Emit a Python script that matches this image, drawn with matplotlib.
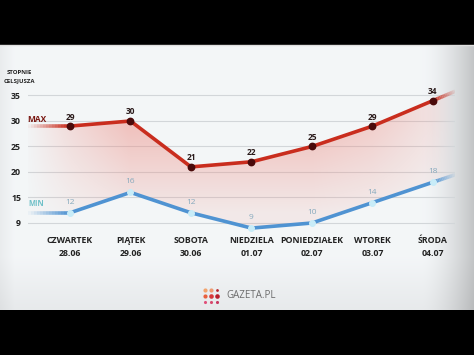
import numpy as np
import matplotlib
matplotlib.use('Agg')
import matplotlib.pyplot as plt
from matplotlib.collections import LineCollection
from matplotlib.lines import Line2D

plt.rcParams['font.family'] = ['Open Sans', 'DejaVu Sans']

# data
days = ['CZWARTEK', 'PIĄTEK', 'SOBOTA', 'NIEDZIELA', 'PONIEDZIAŁEK', 'WTOREK', 'ŚRODA']
dates = ['28.06', '29.06', '30.06', '01.07', '02.07', '03.07', '04.07']
t_max = [29, 30, 21, 22, 25, 29, 34]
t_min = [12, 16, 12, 9, 10, 14, 18]
y_ticks = [10, 15, 20, 25, 30, 35]
y_tick_labels = ['9', '15', '20', '25', '30', '35']

W, H = 474, 355
fig = plt.figure(figsize=(W / 100, H / 100), dpi=100, facecolor='black')

# light panel with a grey vignette on the right
bg = fig.add_axes([0, 45 / H, 1, 265 / H])
xx = np.linspace(0, 1, W)
yy = np.linspace(0, 1, 265)
base = np.array([0.955, 0.965, 0.972])
shade = 1 - 0.2 * np.clip((xx - 0.89) / 0.11, 0, 1) ** 1.6 - 0.04 * np.clip((0.03 - xx) / 0.03, 0, 1)
vert = 1 - 0.05 * np.clip((yy - 0.8) / 0.2, 0, 1)
img = base[None, None, :] * shade[None, :, None] * vert[:, None, None]
bg.imshow(img, aspect='auto', extent=[0, 1, 0, 1])
bg.axis('off')
fig.add_artist(Line2D([0, 1], [1 - 44.5 / H] * 2, color='#e0e0e0', lw=1, transform=fig.transFigure))

ax = fig.add_axes([28 / W, (H - 232) / H, 427 / W, 172 / H])
ax.patch.set_alpha(0)
x = np.arange(len(days))
x0, x1 = -0.694, 6.364
y0, y1 = 8.235, 41.96

# extended outlines (flat on the left, same slope on the right)
def extend(vals):
    right = vals[-1] + (vals[-1] - vals[-2]) * (x1 - x[-1])
    return np.r_[x0, x, x1], np.r_[vals[0], vals, right]

xe, max_e = extend(t_max)
_, min_e = extend(t_min)

# pink band between the two lines, fading to the sides
poly = ax.fill_between(xe, min_e, max_e, color='none', lw=0)
gx = np.linspace(x0, x1, 400)
gy = np.linspace(y0, y1, 200)
hfac = np.interp(gx, [x0, 0, 1, 4, 5, 6, x1], [0.05, 0.5, 1, 1, 0.75, 0.35, 0.0])
vfac = np.clip((gy - 6) / 24, 0.25, 1)
rgba = np.zeros((200, 400, 4))
rgba[..., 0] = 0.93
rgba[..., 1] = 0.52
rgba[..., 2] = 0.48
rgba[..., 3] = 0.48 * vfac[:, None] * hfac[None, :]
im = ax.imshow(rgba, extent=[x0, x1, y0, y1], origin='lower', aspect='auto', zorder=1)
im.set_clip_path(poly.get_paths()[0], ax.transData)


def faded(xs, ys, color, lw, a_start, a_end):
    n = 14
    px = np.linspace(xs[0], xs[1], n + 1)
    py = np.linspace(ys[0], ys[1], n + 1)
    segs = [[(px[i], py[i]), (px[i + 1], py[i + 1])] for i in range(n)]
    alphas = np.linspace(a_start, a_end, n)
    cols = [matplotlib.colors.to_rgba(color, a) for a in alphas]
    ax.add_collection(LineCollection(segs, colors=cols, linewidths=lw, zorder=3, capstyle='butt'))


red = '#c92d1e'
blue = '#4f93d2'
for vals, col in [(max_e, red), (min_e, blue)]:
    faded(xe[:2], vals[:2], col, 2.6, 0.05, 1)
    faded(xe[-2:], vals[-2:], col, 2.6, 1, 0.1)

ax.plot(x, t_max, color=red, lw=2.6, zorder=3, solid_joinstyle='round')
ax.plot(x, t_max, 'o', ms=4.6, mfc='#4a0a0a', mec='#4a0a0a', zorder=4)
ax.plot(x, t_min, color=blue, lw=2.6, zorder=3, solid_joinstyle='round')
ax.plot(x, t_min, 'o', ms=4, mfc='#c8ecf8', mec='#c8ecf8', zorder=4)

for xi, v in zip(x, t_max):
    ax.annotate(str(v), (xi, v), xytext=(0, 6.5), textcoords='offset points',
                ha='center', va='center', fontsize=6, fontweight='bold', color='#2a1a1a', zorder=5)
for xi, v in zip(x, t_min):
    ax.annotate(str(v), (xi, v), xytext=(0, 7.5), textcoords='offset points',
                ha='center', va='center', fontsize=6, color='#86a9bd', zorder=5)

ax.set_xlim(x0, x1)
ax.set_ylim(y0, y1)
ax.set_yticks(y_ticks, y_tick_labels)
ax.set_xticks(x, [f'{d}\n{dt}' for d, dt in zip(days, dates)])
ax.grid(axis='y', color='#d2d6d9', lw=0.8, zorder=0)
ax.set_axisbelow(True)
for s in ax.spines.values():
    s.set_visible(False)
ax.tick_params(axis='y', length=0, pad=5, labelsize=6.3, labelcolor='#222222')
ax.tick_params(axis='x', length=0, pad=3, labelsize=6.3, labelcolor='#222222')
for lab in ax.get_yticklabels() + ax.get_xticklabels():
    lab.set_fontweight('bold')
for lab in ax.get_xticklabels():
    lab.set_linespacing(1.5)

fig.text(27 / W, 1 - 119 / H, 'MAX', color='#7a1812', fontsize=6, fontweight='bold', ha='left', va='center')
fig.text(28 / W, 1 - 203 / H, 'MIN', color='#6fc0c8', fontsize=5.5, fontweight='bold', ha='left', va='center')
fig.text(19.5 / W, 1 - 76.5 / H, 'STOPNIE\nCELSJUSZA', fontsize=4.3, fontweight='bold',
         ha='center', va='center', multialignment='center', color='#222222', linespacing=1.6)

# logo
lg = fig.add_axes([202 / W, 1 - 305 / H, 18 / W, 18 / H])
lg.axis('off')
dot_cols = [['#f2a46e', '#ee9a72', '#b8202a'],
            ['#e8603e', '#d8383a', '#b81e2c'],
            ['#e0507a', '#d84a6e', '#c83860']]
dot_size = [[9, 9, 4], [9, 11, 11], [5, 5, 5]]
for r in range(3):
    for c in range(3):
        lg.scatter(c, 2 - r, s=dot_size[r][c], color=dot_cols[r][c], lw=0)
lg.set_xlim(-0.6, 2.6)
lg.set_ylim(-0.6, 2.6)
fig.text(226 / W, 1 - 296 / H, 'GAZETA.PL', color='#6b6b6b', fontsize=7, ha='left', va='center')

fig.savefig('out.png', dpi=100, facecolor='black')
